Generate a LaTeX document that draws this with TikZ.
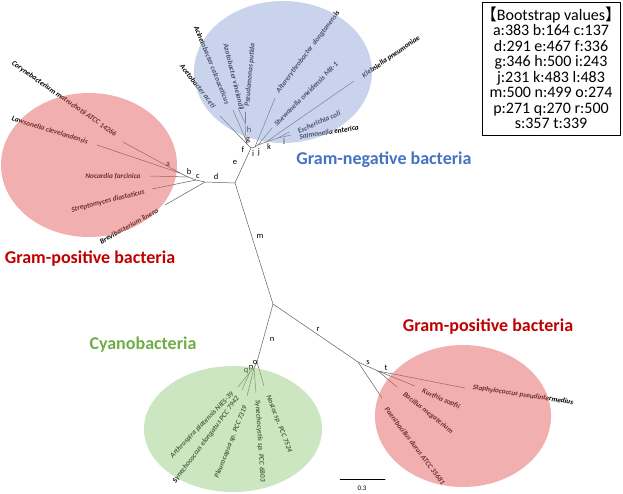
\documentclass[tikz,border=0pt]{standalone}
\usepackage{fontspec}
\setmainfont{Carlito}
\newfontfamily\cjk{Noto Sans CJK JP}
\usetikzlibrary{shapes.geometric}
\definecolor{posfill}{RGB}{227,95,95}
\definecolor{negfill}{RGB}{147,167,217}
\definecolor{cyanofill}{RGB}{151,205,131}
\definecolor{postxt}{RGB}{192,0,0}
\definecolor{negtxt}{RGB}{68,114,196}
\definecolor{cyanotxt}{RGB}{112,173,71}
\definecolor{branchgray}{RGB}{95,95,95}
\tikzset{
  edge/.style={draw=branchgray,line width=0.5pt},
  species/.style={font=\fontsize{7.3}{8}\selectfont\bfseries\itshape,inner sep=0pt},
  bslabel/.style={font=\fontsize{8.5}{9}\selectfont,inner sep=0pt},
  grouplabel/.style={font=\fontsize{18}{20}\selectfont\bfseries,inner sep=0pt},
  clade/.style={fill opacity=0.5,draw=none},
}
\begin{document}
\begin{tikzpicture}[x=1pt,y=-1pt,line cap=round,line join=round]
\useasboundingbox (0,0) rectangle (623,493);
% internal nodes of the tree
\coordinate (E) at (235,183);
\coordinate (D) at (205,182);
\coordinate (C) at (196,180);
\coordinate (B) at (188,177);
\coordinate (A) at (180,173);
\coordinate (X) at (251,148);
\coordinate (F) at (247,144);
\coordinate (G) at (246,140);
\coordinate (H) at (245,123);
\coordinate (I) at (255,147);
\coordinate (J) at (258,145);
\coordinate (K) at (266,142);
\coordinate (L) at (278,138);
\coordinate (R) at (273,304);
\coordinate (S) at (358,362);
\coordinate (T) at (378,371);
\coordinate (O) at (257,362);
\coordinate (P) at (254,368);
\coordinate (Q) at (250,372);
% leaf ends
\coordinate (coryne) at (123,142);
\coordinate (lawson) at (97,145);
\coordinate (nocard) at (150,176);
\coordinate (strepto) at (152,189);
\coordinate (brevi) at (165,205);
\coordinate (aceti) at (220,116);
\coordinate (acineto) at (233,110);
\coordinate (azoto) at (238,108);
\coordinate (pseudo) at (245,112);
\coordinate (alter) at (275,98);
\coordinate (shewa) at (272,128);
\coordinate (klebs) at (354,81);
\coordinate (ecoli) at (289,132);
\coordinate (salmo) at (291,135);
\coordinate (paeni) at (382,398);
\coordinate (bacil) at (397,387);
\coordinate (kurth) at (415,386);
\coordinate (staph) at (465,388);
\coordinate (arthro) at (238,387);
\coordinate (synco) at (242,390);
\coordinate (pleuro) at (247,396);
\coordinate (syncy) at (256,393);
\coordinate (nostoc) at (264,386);

% branches
\draw[edge] (D) -- (E) -- (X);
\draw[edge] (E) -- (R);
\draw[edge] (D) -- (C) -- (B) -- (A);
\draw[edge] (A) -- (coryne);
\draw[edge] (A) -- (lawson);
\draw[edge] (B) -- (nocard);
\draw[edge] (C) -- (strepto);
\draw[edge] (D) -- (brevi);
\draw[edge] (X) -- (F) -- (G) -- (H);
\draw[edge] (F) -- (aceti);
\draw[edge] (G) -- (acineto);
\draw[edge] (H) -- (azoto);
\draw[edge] (H) -- (pseudo);
\draw[edge] (X) -- (I) -- (J) -- (K) -- (L);
\draw[edge] (I) -- (alter);
\draw[edge] (J) -- (shewa);
\draw[edge] (K) -- (klebs);
\draw[edge] (L) -- (ecoli);
\draw[edge] (L) -- (salmo);
\draw[edge] (R) -- (S) -- (T);
\draw[edge] (S) -- (paeni);
\draw[edge] (T) -- (bacil);
\draw[edge] (T) -- (kurth);
\draw[edge] (T) -- (staph);
\draw[edge] (R) -- (O) -- (P) -- (Q);
\draw[edge] (O) -- (nostoc);
\draw[edge] (P) -- (syncy);
\draw[edge] (P) -- (pleuro);
\draw[edge] (Q) -- (synco);
\draw[edge] (Q) -- (arthro);

% species names
\node[species,rotate=-35] (tcoryne) at (64,99) {Corynebacterium matruchotii ATCC 14266};
\node[species,rotate=-17.5] (tlawson) at (50,130) {Lawsonella clevelandensis};
\node[species] (tnocard) at (113,176) {Nocardia farcinica};
\node[species,rotate=14] (tstrepto) at (108,201) {Streptomyces diastaticus};
\node[species,rotate=29] (tbrevi) at (129,226) {Brevibacterium linens};
\node[species,rotate=-52] (taceti) at (198,86) {Acetobacter aceti};
\node[species,rotate=-68] (tacineto) at (212,65) {Acinetobacter calcoaceticus};
\node[species,rotate=-76] (tazoto) at (234,77) {Azotobacter vinelandii};
\node[species,rotate=85] (tpseudo) at (250,75) {Pseudomonas putida};
\node[species,rotate=53] (talter) at (308,52) {Altererythrobacter\ \ dongtanensis};
\node[species,rotate=45] (tshewa) at (306,94) {Shewanella oneidensis MR-1};
\node[species,rotate=35] (tklebs) at (391,57) {Klebsiella pneumoniae};
\node[species,rotate=24] (tecoli) at (319,122) {Escherichia coli};
\node[species,rotate=9] (tsalmo) at (329,132) {Salmonella enterica};
\node[species,rotate=46] (tarthro) at (202,425) {Arthrospira platensis NIES-39};
\node[species,rotate=53] (tsynco) at (206,440) {Synechococcus elongatus PCC 7942};
\node[species,rotate=68] (tpleuro) at (231,442) {Pleurocapsa sp. PCC 7319};
\node[species,rotate=-86.5] (tsyncy) at (260,441) {Synechocystis sp. PCC 6803};
\node[species,rotate=-69] (tnostoc) at (279,424) {Nostoc sp. PCC 7524};
\node[species,rotate=-8.5] (tstaph) at (523,395) {Staphylococcus pseudintermedius};
\node[species,rotate=-23] (tkurth) at (441,399) {Kurthia zopfii};
\node[species,rotate=-38.5] (tbacil) at (428,413) {Bacillus megaterium};
\node[species,rotate=-53] (tpaeni) at (415,446) {Paenibacillus durus ATCC 35681};

% branch letters
\foreach \lab/\px/\py in {a/168/164,b/189/172,c/198/176,d/216/177,e/235/162,
  f/243/150,g/248/140,h/249/130,i/253/154,j/259/152,k/269/147,l/284/142,
  m/260/236,n/272/339,o/255/362,p/251/368,q/246/371,r/318/329,s/368/362,t/386/368}
  \node[bslabel] (bs\lab) at (\px,\py) {\lab};

% clades
\fill[clade,posfill] (89,165) ellipse [x radius=88,y radius=72];
\fill[clade,negfill] (283,72) ellipse [x radius=89,y radius=71];
\fill[clade,cyanofill] (233,429) ellipse [x radius=89,y radius=63];
\fill[clade,posfill] (463,416) ellipse [x radius=88,y radius=71];

\node[grouplabel,text=postxt] (gpleft) at (90,259) {Gram-positive bacteria};
\node[grouplabel,text=negtxt] (gneg) at (384,160) {Gram-negative bacteria};
\node[grouplabel,text=cyanotxt] (gcyano) at (143,345) {Cyanobacteria};
\node[grouplabel,text=postxt] (gpright) at (488,327) {Gram-positive bacteria};

% scale bar
\coordinate (sb1) at (340,479);
\coordinate (sb2) at (385,479);
\draw[line width=0.5pt] (sb1) -- (sb2);
\node[font=\fontsize{7}{8}\selectfont,inner sep=0pt] (sblab) at (362,488) {0.3};

% bootstrap box
\draw[line width=1pt] (482,2) rectangle (620,135);
\node[align=center,inner sep=0pt,font=\fontsize{16}{15.5}\selectfont] (bootbox) at (551,68)
  {{\cjk 【}Bootstrap values{\cjk 】}\\
   a:383 b:164 c:137\\ d:291 e:467 f:336\\ g:346 h:500 i:243\\
   j:231 k:483 l:483\\ m:500 n:499 o:274\\ p:271 q:270 r:500\\ s:357 t:339};
\end{tikzpicture}
\end{document}
